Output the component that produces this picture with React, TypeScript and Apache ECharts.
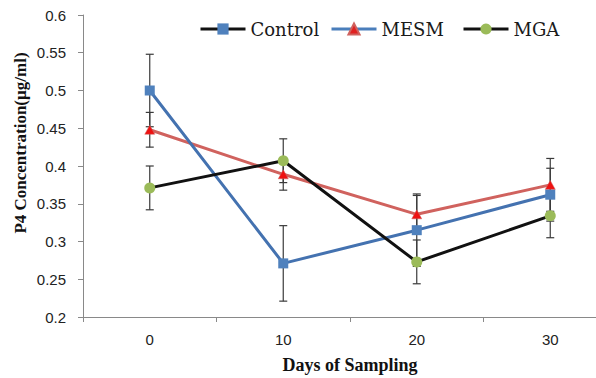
import React, { useEffect, useRef } from "react";
import * as echarts from "echarts";

const days = ["0", "10", "20", "30"];
const controlValues = [0.5, 0.271, 0.315, 0.362];
const controlErrors = [0.048, 0.05, 0.048, 0.035];
const mesmValues = [0.448, 0.389, 0.336, 0.375];
const mesmErrors = [0.023, 0.021, 0.025, 0.035];
const mgaValues = [0.371, 0.407, 0.273, 0.334];
const mgaErrors = [0.029, 0.029, 0.029, 0.029];
const yTitle = "P4 Concentration(µg/ml)";
const xTitle = "Days of Sampling";

function errorSeries(name: string, values: number[], errors: number[]) {
  return {
    type: "custom",
    name: name + "-err",
    z: 1,
    silent: true,
    data: values.map((v, i) => [i, v, errors[i]]),
    renderItem: (params: any, api: any) => {
      const x = api.value(0);
      const v = api.value(1);
      const e = api.value(2);
      const top = api.coord([x, v + e]);
      const bot = api.coord([x, v - e]);
      const cw = 4;
      const style = { stroke: "#3a3a3a", lineWidth: 1.2 };
      return {
        type: "group",
        children: [
          { type: "line", shape: { x1: top[0], y1: top[1], x2: bot[0], y2: bot[1] }, style },
          { type: "line", shape: { x1: top[0] - cw, y1: top[1], x2: top[0] + cw, y2: top[1] }, style },
          { type: "line", shape: { x1: bot[0] - cw, y1: bot[1], x2: bot[0] + cw, y2: bot[1] }, style },
        ],
      };
    },
  };
}

const legendText = { fontFamily: "'DejaVu Serif', serif", fontSize: 18, color: "#1a1a1a" };

export default function App() {
  const ref = useRef<HTMLDivElement>(null);
  useEffect(() => {
    if (!ref.current) return;
    const chart = echarts.init(ref.current, null, { renderer: "svg" });
    chart.setOption({
      animation: false,
      backgroundColor: "#ffffff",
      grid: { left: 83, top: 15, width: 534, height: 302, containLabel: false, outerBoundsMode: "none" },
      legend: [
        {
          left: 199, top: 20, padding: 0, itemWidth: 45, itemHeight: 14, textStyle: legendText,
          data: [{ name: "Control", itemStyle: { color: "#4F81BD" }, lineStyle: { color: "#111111", width: 3 } }],
        },
        {
          left: 330, top: 20, padding: 0, itemWidth: 45, itemHeight: 14, textStyle: legendText,
          data: [{ name: "MESM", itemStyle: { color: "#E02020" }, lineStyle: { color: "#4A7EBB", width: 3 } }],
        },
        {
          left: 462, top: 20, padding: 0, itemWidth: 45, itemHeight: 14, textStyle: legendText,
          data: [{ name: "MGA", itemStyle: { color: "#9BBB59" }, lineStyle: { color: "#111111", width: 3 } }],
        },
      ],
      xAxis: {
        type: "category",
        data: days,
        boundaryGap: true,
        axisLine: { lineStyle: { color: "#898989", width: 1 } },
        axisTick: { show: true, length: 5, lineStyle: { color: "#898989" } },
        axisLabel: { fontFamily: "Liberation Sans", fontSize: 15, color: "#222", margin: 15 },
        splitLine: { show: false },
      },
      yAxis: {
        type: "value",
        min: 0.2,
        max: 0.6,
        interval: 0.05,
        axisLine: { show: true, lineStyle: { color: "#898989", width: 1 } },
        axisTick: { show: true, length: 5, lineStyle: { color: "#898989" } },
        axisLabel: { fontFamily: "Liberation Sans", fontSize: 15, color: "#222", margin: 17 },
        splitLine: { show: false },
      },
      graphic: [
        {
          type: "text",
          x: 20,
          y: 143,
          rotation: Math.PI / 2,
          style: {
            text: yTitle,
            font: "bold 17px 'Liberation Serif'",
            fill: "#111",
            align: "center",
            verticalAlign: "middle",
            textAlign: "center",
            textVerticalAlign: "middle",
          },
        },
        {
          type: "text",
          x: 350,
          y: 365,
          style: {
            text: xTitle,
            font: "bold 18px 'Liberation Serif'",
            fill: "#111",
            align: "center",
            verticalAlign: "middle",
            textAlign: "center",
            textVerticalAlign: "middle",
          },
        },
      ],
      series: [
        errorSeries("MESM", mesmValues, mesmErrors),
        errorSeries("Control", controlValues, controlErrors),
        errorSeries("MGA", mgaValues, mgaErrors),
        {
          name: "MESM",
          type: "line",
          z: 2,
          data: mesmValues,
          symbol: "triangle",
          symbolSize: [10, 9],
          lineStyle: { color: "#D0625E", width: 3 },
          itemStyle: { color: "#EE1111", borderColor: "#D0625E", borderWidth: 0.5 },
        },
        {
          name: "Control",
          type: "line",
          z: 3,
          data: controlValues,
          symbol: "rect",
          symbolSize: 10,
          lineStyle: { color: "#4472B0", width: 3 },
          itemStyle: { color: "#4F81BD" },
        },
        {
          name: "MGA",
          type: "line",
          z: 4,
          data: mgaValues,
          symbol: "circle",
          symbolSize: 11,
          lineStyle: { color: "#111111", width: 3 },
          itemStyle: { color: "#9BBB59" },
        },
      ],
    });
    return () => chart.dispose();
  }, []);
  return (
    <div
      ref={ref}
      style={{ position: "fixed", left: 0, top: 0, width: 596, height: 378, background: "#fff" }}
    />
  );
}
